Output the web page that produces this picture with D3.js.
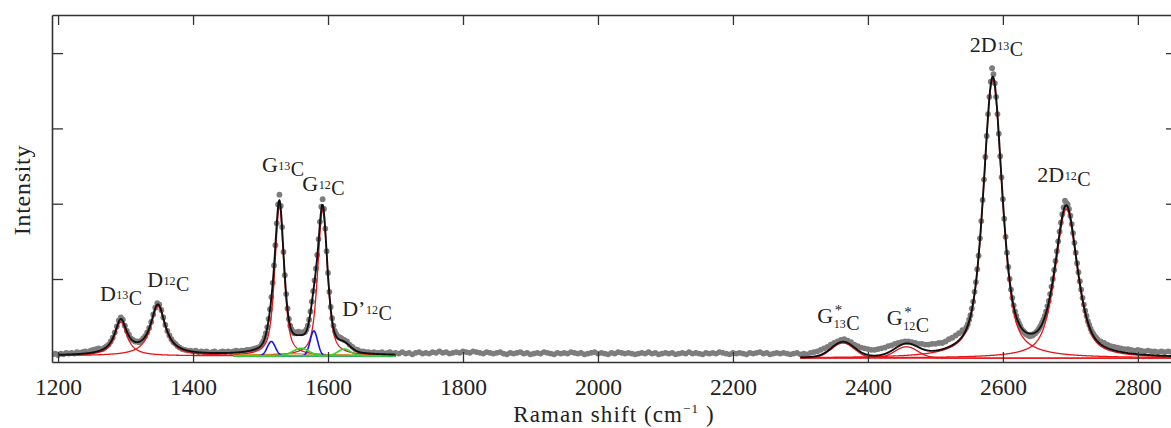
<!DOCTYPE html>
<html>
<head>
<meta charset="utf-8">
<script src="https://cdn.jsdelivr.net/npm/d3@7"></script>
<style>
  body { margin: 0; background: #fff; }
  #chart { width: 1171px; height: 428px; }
  text { font-family: 'Liberation Serif', serif; fill: #222; }
</style>
</head>
<body>
<div id="chart"></div>
<script>
const specA = [0.00, 0.01, -0.01, 0.01, 0.00, 0.02, 0.01, 0.02, 0.01, 0.03, 0.02, 0.03, 0.04, 0.03, 0.05, 0.06, 0.07, 0.08]
const specB = [0.07, 0.07, 0.09, 0.11, 0.13, 0.17, 0.22, 0.29, 0.37, 0.45, 0.49, 0.46, 0.38, 0.31, 0.26, 0.21, 0.19, 0.17, 0.17, 0.16,
  0.18, 0.21, 0.24, 0.29, 0.35, 0.43, 0.53, 0.62, 0.68, 0.66, 0.59, 0.49, 0.39, 0.31, 0.25, 0.20, 0.16, 0.14, 0.11, 0.09]
const specC = [0.07, 0.06, 0.05, 0.05, 0.04, 0.05, 0.03, 0.04, 0.03, 0.04, 0.02, 0.03, 0.04, 0.02, 0.03, 0.04, 0.03, 0.04, 0.03, 0.04,
  0.05, 0.04, 0.05, 0.05, 0.06, 0.06, 0.07, 0.08, 0.09, 0.11]
const specD = [0.14, 0.17, 0.22, 0.28, 0.36, 0.47, 0.60, 0.76, 0.95, 1.18,
  1.45, 1.74, 1.99, 2.12, 1.97, 1.69, 1.36, 1.05, 0.80, 0.61,
  0.47, 0.38, 0.33, 0.30, 0.28, 0.29, 0.28, 0.30, 0.29, 0.28,
  0.29, 0.29, 0.30, 0.33, 0.38, 0.46, 0.57, 0.70, 0.84, 0.98,
  1.14, 1.32, 1.53, 1.76, 1.96, 2.06, 1.93, 1.67, 1.37, 1.08,
  0.83, 0.63, 0.48, 0.38, 0.31, 0.27, 0.24, 0.23, 0.22, 0.21]
const specE = [0.19, 0.17, 0.13, 0.10, 0.07, 0.06, 0.04, 0.04, 0.03, 0.03, 0.02, 0.03, 0.02, 0.02, 0.03, 0.01, 0.02, 0.03, 0.01]
const specF = [0.02, 0.01, 0.03, 0.01, 0.02, 0.00, 0.02, 0.03, 0.01, 0.02,
  0.01, 0.03, 0.02, 0.04, 0.02, 0.03, 0.01, 0.02, 0.03, 0.02,
  0.04, 0.03, 0.02, 0.04, 0.03, 0.02, 0.01, 0.03, 0.02, 0.01,
  0.02, 0.03, 0.01, 0.00, 0.02, 0.01, 0.02, 0.03, 0.01, 0.02,
  0.00, 0.01, 0.02, 0.01, 0.03, 0.02, 0.01, 0.00, 0.02, 0.01,
  0.02, 0.01, 0.03, 0.02, 0.01, 0.02, 0.00, 0.01, 0.02, 0.03,
  0.01, 0.02, 0.01, 0.00, 0.02, 0.01, 0.03, 0.02, 0.01, 0.02,
  0.01, 0.00, 0.01, 0.02, 0.01, 0.03, 0.01, 0.02, 0.00, 0.01,
  0.02, 0.01, 0.02, 0.00, 0.01, 0.02, 0.01, 0.03, 0.01, 0.02,
  0.01, 0.00, 0.02, 0.01, 0.02, 0.01, 0.03, 0.02, 0.01, 0.00,
  0.02, 0.01, 0.02, 0.01, 0.00, 0.02, 0.01, 0.02, 0.03, 0.01,
  0.02, 0.00, 0.01, 0.02, 0.01, 0.02, 0.01, 0.00, 0.01, 0.02]
const specG = [0.00, 0.01, 0.00, 0.02, 0.03, 0.04, 0.06, 0.08, 0.10, 0.13,
  0.15, 0.17, 0.19, 0.20, 0.18, 0.16, 0.13, 0.11, 0.09, 0.08,
  0.07, 0.06, 0.06, 0.07, 0.08, 0.09, 0.11, 0.12, 0.14, 0.15,
  0.16, 0.17, 0.17, 0.16, 0.15, 0.14, 0.14, 0.13, 0.13, 0.14,
  0.14, 0.15, 0.15, 0.17, 0.20, 0.22, 0.25, 0.28, 0.32]
const specH = [0.30, 0.33, 0.36, 0.40, 0.46, 0.52, 0.61, 0.70, 0.83, 0.96,
  1.13, 1.31, 1.54, 1.77, 2.05, 2.32, 2.62, 2.90, 3.19, 3.42,
  3.62, 3.80, 3.72, 3.60, 3.42, 3.19, 2.93, 2.63, 2.35, 2.06,
  1.80, 1.56, 1.35, 1.16, 1.00, 0.86, 0.75, 0.65, 0.57, 0.51,
  0.45, 0.41, 0.37, 0.33, 0.31, 0.29, 0.27, 0.26, 0.25, 0.24,
  0.26, 0.25, 0.27, 0.28, 0.30, 0.32, 0.35, 0.38, 0.42, 0.46,
  0.51, 0.57, 0.64, 0.71, 0.80, 0.90, 1.00, 1.12, 1.24, 1.37,
  1.50, 1.63, 1.75, 1.86, 1.95, 2.04, 2.01, 1.99, 1.93, 1.84,
  1.73, 1.61, 1.48, 1.35, 1.21, 1.09, 0.97, 0.86, 0.75, 0.66,
  0.58, 0.51, 0.44, 0.39, 0.34, 0.30, 0.27, 0.24, 0.22, 0.20]
const specI = [0.17, 0.15, 0.13, 0.11, 0.10, 0.09, 0.08, 0.07, 0.07, 0.06, 0.05, 0.06, 0.05, 0.04, 0.05, 0.04, 0.04, 0.03, 0.04, 0.03,
  0.04, 0.03, 0.04]

const spectrumPieces = [
  [1192, 4, specA], [1263, 3, specB], [1384, 4, specC], [1502, 2, specD], [1624, 4, specE],
  [1700, 5, specF], [2300, 5, specG], [2542, 2, specH], [2745, 5, specI]
]

// fitted components (pseudo-Voigt: lorentz share 1 = Lorentzian, 0 = Gaussian)
const compName = ['D13C', 'D12C', 'G13C', 'G12C', 'blue1', 'blue2', 'green1', "D'12C", 'broad', 'G*13C', 'G*12C', '2D13C', '2D12C']
const compCenter = [1293, 1348, 1528, 1592, 1516, 1579, 1560, 1624, 1550, 2363, 2457, 2585, 2694]
const compFwhm = [22, 26, 16, 17, 14, 13, 28, 22, 150, 40, 40, 33, 39]
const compHeight = [0.45, 0.66, 1.99, 1.94, 0.19, 0.33, 0.10, 0.09, 0.025, 0.20, 0.15, 3.7, 1.98]
const compLorentz = [1, 1, 0.6, 0.6, 0, 0, 0, 0, 1, 0, 0, 0.6, 0.6]
const compFrom = [1200, 1200, 1460, 1460, 1460, 1460, 1460, 1460, 1460, 2300, 2300, 2300, 2300]
const compTo = [1460, 1460, 1700, 1700, 1700, 1700, 1700, 1700, 1700, 2858, 2858, 2858, 2858]
const compKind = ['peak', 'peak', 'peak', 'peak', 'inner', 'inner', 'outer', 'outer', 'broad', 'peak', 'peak', 'peak', 'peak']
const compWindow = [0, 0, 0, 0, 0, 0, 0, 0, 0, 1, 1, 1, 1]

// the two fit windows
const windowFrom = [1200, 2300]
const windowTo = [1700, 2858]
const windowBase = [-0.02, -0.05]

// peak labels
const labelMain = ['D', 'D', 'G', 'G', 'D\u2019', 'G', 'G', '2D', '2D']
const labelIso = ['13', '12', '13', '12', '12', '13', '12', '13', '12']
const labelStar = [false, false, false, false, false, true, true, false, false]
const labelShift = [1262, 1332, 1502, 1562, 1621, 2325, 2428, 2551, 2651]
const labelLevel = [0.71, 0.89, 2.42, 2.17, 0.51, 0.42, 0.39, 4.02, 2.29]

const xTicks = [1200, 1400, 1600, 1800, 2000, 2200, 2400, 2600, 2800]
const yTicks = [1, 2, 3, 4]

const createChart = () => {
  const width = 1171
  const height = 428

  const wrapper = d3.select('#chart')
    .append('svg')
    .attr('width', width)
    .attr('height', height)

  const xScale = d3.scaleLinear().domain([1191, 2858]).range([52, 1177])
  const yScale = d3.scaleLinear().domain([-0.102, 4.506]).range([362, 15])

  wrapper.append('clipPath').attr('id', 'plot')
    .append('rect')
    .attr('x', 52).attr('y', 15)
    .attr('width', 1125).attr('height', 347)

  const bounds = wrapper.append('g').attr('clip-path', 'url(#plot)')

  // measured dots
  const dots = spectrumPieces.flatMap(([start, step, vals]) => vals.map((v, k) => [start + k * step, v]))
  bounds.append('g')
    .selectAll('circle')
    .data(dots)
    .join('circle')
    .attr('cx', (d) => xScale(d[0]))
    .attr('cy', (d) => yScale(d[1]))
    .attr('r', 2.9)
    .attr('fill', '#7d7d7d')

  const component = (i, v) => {
    const r = ((v - compCenter[i]) / (compFwhm[i] / 2)) ** 2
    const eta = compLorentz[i]
    return compHeight[i] * (eta / (1 + r) + (1 - eta) * Math.exp(-Math.LN2 * r))
  }

  const lineGenerator = d3.line()
    .x((d) => xScale(d[0]))
    .y((d) => yScale(d[1]))

  const kindColor = { peak: '#e5161a', inner: '#1616ee', outer: '#2fd62f', broad: '#d08a20' }
  const kindWidth = { peak: 1.3, inner: 1.6, outer: 1.7, broad: 1.2 }
  const order = ['peak', 'broad', 'inner', 'outer']

  order.forEach((kind) => {
    compName.forEach((name, i) => {
      if (compKind[i] !== kind) return
      const base = windowBase[compWindow[i]]
      const pts = d3.range(compFrom[i], compTo[i] + 0.01, 0.5).map((v) => [v, base + component(i, v)])
      bounds.append('path')
        .attr('d', lineGenerator(pts))
        .attr('fill', 'none')
        .attr('stroke', kindColor[kind])
        .attr('stroke-width', kindWidth[kind])
    })
  })

  // total fit per window
  windowFrom.forEach((from, w) => {
    const pts = d3.range(from, windowTo[w] + 0.01, 0.5).map((v) => {
      let s = windowBase[w]
      compName.forEach((n, i) => { if (compWindow[i] === w) s += component(i, v) })
      return [v, s]
    })
    bounds.append('path')
      .attr('d', lineGenerator(pts))
      .attr('fill', 'none')
      .attr('stroke', '#111')
      .attr('stroke-width', 1.9)
  })

  // frame and ticks
  const axisStyle = (g) => g.attr('color', '#333')
    .attr('font-family', 'Liberation Serif, serif')
    .attr('font-size', 23.5)
    .call((s) => s.select('.domain').attr('stroke-width', 1.6))
    .call((s) => s.selectAll('.tick line').attr('stroke-width', 1.3))

  wrapper.append('g')
    .attr('transform', 'translate(0, 362)')
    .call(d3.axisBottom(xScale).tickValues(xTicks).tickSize(-10).tickSizeOuter(0).tickPadding(16).tickFormat(d3.format('d')))
    .call(axisStyle)
  wrapper.append('g')
    .attr('transform', 'translate(0, 15)')
    .call(d3.axisTop(xScale).tickValues(xTicks).tickSize(-10).tickSizeOuter(0).tickFormat(''))
    .call(axisStyle)
  wrapper.append('g')
    .attr('transform', 'translate(52, 0)')
    .call(d3.axisLeft(yScale).tickValues(yTicks).tickSize(-11).tickSizeOuter(0).tickFormat(''))
    .call(axisStyle)
  wrapper.append('g')
    .attr('transform', 'translate(1177, 0)')
    .call(d3.axisRight(yScale).tickValues(yTicks).tickSize(-11).tickSizeOuter(0).tickFormat(''))
    .call(axisStyle)
  wrapper.selectAll('.tick text').attr('fill', '#222')

  // axis titles
  const xTitle = wrapper.append('text')
    .attr('x', 614)
    .attr('y', 422)
    .attr('text-anchor', 'middle')
    .style('font-size', '23px')
    .style('letter-spacing', '1.1px')
  xTitle.append('tspan').text('Raman shift (cm')
  xTitle.append('tspan').attr('dy', -9).style('font-size', '13px').text('\u22121')
  xTitle.append('tspan').attr('dy', 9).text(' )')

  wrapper.append('text')
    .attr('transform', 'translate(30, 190) rotate(-90)')
    .attr('text-anchor', 'middle')
    .style('font-size', '24px')
    .style('letter-spacing', '0.7px')
    .text('Intensity')

  // peak labels
  labelMain.forEach((m, i) => {
    const bx = xScale(labelShift[i])
    const by = yScale(labelLevel[i])
    const lab = wrapper.append('g')
    const main = lab.append('text').attr('x', bx).attr('y', by).style('font-size', '22px').text(m)
    let cx = bx + main.node().getComputedTextLength() + 0.5
    if (labelStar[i]) {
      lab.append('text').attr('x', cx + 1).attr('y', by - 8).style('font-size', '15px').text('*')
    }
    const iso = lab.append('text')
      .attr('x', cx)
      .attr('y', by + (labelStar[i] ? 5 : -2))
      .style('font-size', '12px')
      .text(labelIso[i])
    cx += iso.node().getComputedTextLength() + 0.5
    lab.append('text')
      .attr('x', cx)
      .attr('y', by + (labelStar[i] ? 7 : 4))
      .style('font-size', '20px')
      .text('C')
  })
}

createChart()
</script>
</body>
</html>
